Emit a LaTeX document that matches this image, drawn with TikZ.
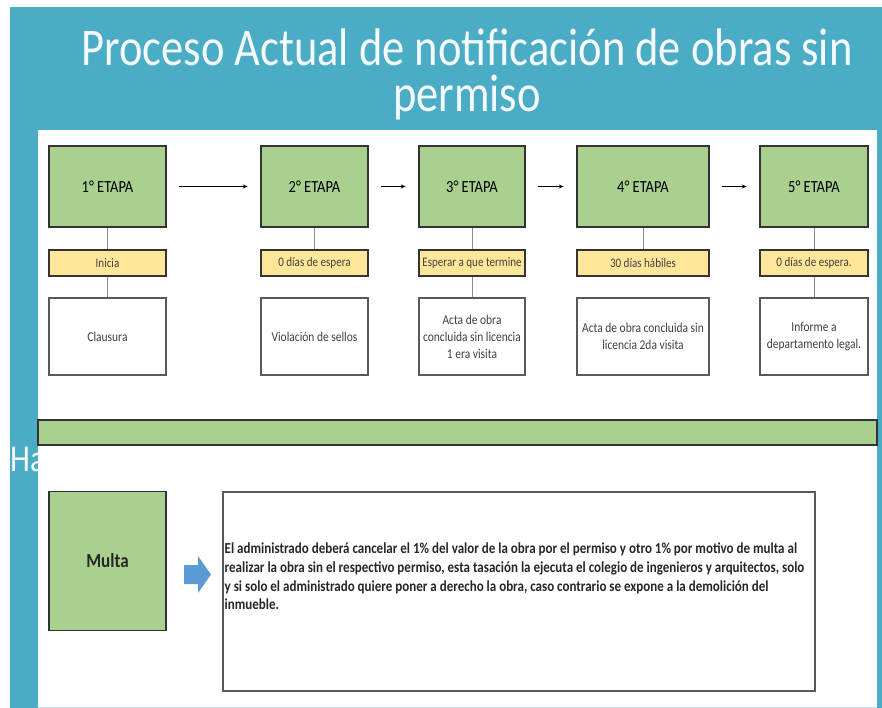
\documentclass[tikz,border=0pt]{standalone}
\usepackage{fontspec}
\setmainfont{Carlito}[FakeStretch=0.85]
\newfontfamily\titlefont{Carlito}[FakeStretch=0.84]
\usetikzlibrary{arrows.meta}
\definecolor{tealbg}{HTML}{4BACC6}
\definecolor{greenf}{HTML}{A9D08E}
\definecolor{yellowf}{HTML}{FFE699}
\definecolor{blockblue}{HTML}{5B9BD5}
\definecolor{edgec}{HTML}{333333}
\definecolor{grayedge}{HTML}{595959}
\definecolor{txtgray}{HTML}{404040}
\definecolor{linkgray}{HTML}{8C8C8C}
\definecolor{titlewhite}{HTML}{F4FAFC}
\begin{document}
\begin{tikzpicture}[x=1pt,y=-1pt,
  stagebox/.style={draw=edgec, line width=1.6pt, fill=greenf, inner sep=0pt,
    minimum height=81pt, font=\fontsize{17}{20}\selectfont, text=black},
  waitbar/.style={draw=edgec, line width=1.6pt, fill=yellowf, inner sep=0pt,
    minimum height=26pt, font=\fontsize{13}{15}\selectfont, text=txtgray},
  actbox/.style={draw=grayedge, line width=1.6pt, fill=white, inner sep=0pt,
    minimum height=77pt, align=center, font=\fontsize{13.5}{17}\selectfont, text=txtgray},
  link/.style={draw=linkgray, line width=1pt},
  flow/.style={draw=black, line width=1.2pt, -{Stealth[length=5pt,width=4pt]},
    shorten <=12.5pt, shorten >=12.5pt}
]
\useasboundingbox (0,0) rectangle (882,708);
\fill[white] (0,0) rectangle (882,708);
\fill[tealbg] (10,7) rectangle (882,708);
\node[anchor=west, inner sep=0pt, text=titlewhite, font=\titlefont\fontsize{38}{40}\selectfont] (ha) at (10,459) {Ha};
\fill[white] (38,130) rectangle (877,708);
\draw[tealbg!35, line width=1pt] (38,707) -- (877,707);

\node[text=titlewhite, align=center, font=\titlefont\fontsize{53}{46}\selectfont] (title) at (467,74)
  {Proceso Actual de notificación de obras sin\\permiso};

% stages
\node[stagebox, minimum width=117pt] (g1) at (107.5,186.5) {1° ETAPA};
\node[stagebox, minimum width=107pt] (g2) at (314.5,186.5) {2° ETAPA};
\node[stagebox, minimum width=106pt] (g3) at (472,186.5) {3° ETAPA};
\node[stagebox, minimum width=132pt] (g4) at (643,186.5) {4° ETAPA};
\node[stagebox, minimum width=108pt] (g5) at (814,186.5) {5° ETAPA};

\node[waitbar, minimum width=117pt] (y1) at (107.5,263) {Inicia};
\node[waitbar, minimum width=107pt] (y2) at (314.5,263) {0 días de espera};
\node[waitbar, minimum width=106pt] (y3) at (472,263) {Esperar a que termine};
\node[waitbar, minimum width=132pt] (y4) at (643,263) {30 días hábiles};
\node[waitbar, minimum width=108pt] (y5) at (814,263) {0 días de espera.};

\node[actbox, minimum width=117pt] (w1) at (107.5,336.5) {Clausura};
\node[actbox, minimum width=107pt] (w2) at (314.5,336.5) {Violación de sellos};
\node[actbox, minimum width=106pt] (w3) at (472,336.5) {Acta de obra\\concluida sin licencia\\1 era visita};
\node[actbox, minimum width=132pt] (w4) at (643,336.5) {Acta de obra concluida sin\\licencia 2da visita};
\node[actbox, minimum width=108pt] (w5) at (814,336.5) {Informe a\\departamento legal.};

\draw[link] (g1.south) -- (y1.north);
\draw[link] (y1.south) -- (w1.north);
\draw[link] (g2.south) -- (y2.north);
\draw[link] (g3.south) -- (y3.north);
\draw[link] (y3.south) -- (w3.north);
\draw[link] (g4.south) -- (y4.north);
\draw[link] (g5.south) -- (y5.north);
\draw[link] (y5.south) -- (w5.north);

\draw[flow] (g1) -- (g2);
\draw[flow] (g2) -- (g3);
\draw[flow] (g3) -- (g4);
\draw[flow] (g4) -- (g5);

% band
\node[draw=edgec, line width=1.6pt, fill=greenf, inner sep=0pt, minimum width=839pt, minimum height=25pt] (band) at (457.5,432.5) {};

% multa
\node[draw=edgec, line width=1.6pt, fill=greenf, inner sep=0pt, minimum width=117pt, minimum height=139pt,
  font=\bfseries\fontsize{20}{22}\selectfont, text=black!85] (multa) at (107.5,561) {Multa};
\fill[blockblue] (184,565) -- (198,565) -- (198,556) -- (211,574.5) -- (198,593) -- (198,584) -- (184,584) -- cycle;
\node[draw=grayedge, line width=1.6pt, fill=white, inner sep=0pt, minimum width=592pt, minimum height=199pt] (desc) at (519,591.5) {};
\node[anchor=north west, inner sep=0pt, align=left, text=txtgray!60!black,
  font=\bfseries\fontsize{15.3}{18.6}\selectfont] (desctext) at (224.5,543)
  {El administrado deberá cancelar el 1\% del valor de la obra por el permiso y otro 1\% por motivo de multa al\\
   realizar la obra sin el respectivo permiso, esta tasación la ejecuta el colegio de ingenieros y arquitectos, solo\\
   y si solo el administrado quiere poner a derecho la obra, caso contrario se expone a la demolición del\\
   inmueble.};
\end{tikzpicture}
\end{document}
